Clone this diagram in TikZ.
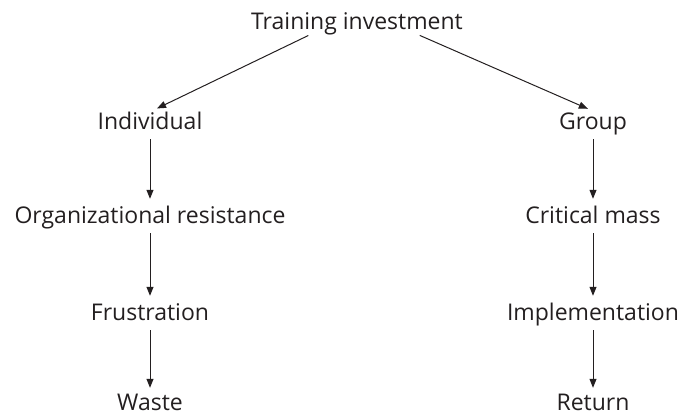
\documentclass[tikz,border=0pt]{standalone}
\usepackage{fontspec}
\setmainfont{Open Sans}
\usetikzlibrary{arrows.meta}
\definecolor{ink}{HTML}{231F20}
\begin{document}
\begin{tikzpicture}[x=1pt,y=-1pt,
  label/.style={anchor=base,inner sep=0pt,text height=16pt,text depth=5pt,
    text=ink,font=\fontsize{23}{27}\selectfont},
  link/.style={draw=ink,line width=1pt,-{Triangle[length=9pt,width=7pt]},
    shorten <=5pt,shorten >=8pt}]
  \useasboundingbox (0,0) rectangle (678,415);
  % root
  \node[label] (ti) at (357,29) {Training investment};
  % left branch
  \node[label] (ind) at (150,129) {Individual};
  \node[label] (org) at (150,223) {Organizational resistance};
  \node[label] (fru) at (150,320) {Frustration};
  \node[label,text depth=0pt] (was) at (150,410) {Waste};
  % right branch
  \node[label] (grp) at (593,129) {Group};
  \node[label] (cri) at (593,223) {Critical mass};
  \node[label] (imp) at (593,320) {Implementation};
  \node[label,text depth=0pt] (ret) at (593,410) {Return};
  % connectors
  \draw[link,shorten <=3pt,shorten >=10pt] ([xshift=-46pt]ti.south) -- ([xshift=-2pt]ind.north);
  \draw[link,shorten <=3pt,shorten >=10pt] ([xshift=60pt]ti.south) -- ([xshift=4pt]grp.north);
  \draw[link] (ind) -- (org);
  \draw[link] (org) -- (fru);
  \draw[link,shorten >=6pt] (fru) -- (was);
  \draw[link] (grp) -- (cri);
  \draw[link] (cri) -- (imp);
  \draw[link,shorten >=6pt] (imp) -- (ret);
\end{tikzpicture}
\end{document}
